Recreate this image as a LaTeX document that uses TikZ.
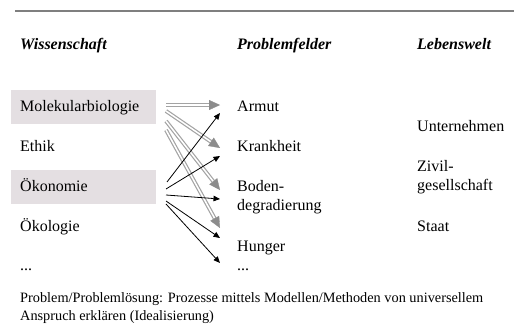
\documentclass[tikz,border=0pt]{standalone}
\usepackage{fontspec}
\setmainfont{Liberation Serif}
\usetikzlibrary{arrows.meta,calc}
\definecolor{boxfill}{HTML}{E4DFE2}
\definecolor{linegray}{HTML}{A3A3A3}
\definecolor{headgray}{HTML}{8C8C8C}
\definecolor{rulegray}{HTML}{7F7F7F}
\begin{document}
\begin{tikzpicture}[x=1pt,y=-1pt,
  txt/.style={anchor=base west,inner sep=0pt,font=\fontsize{16}{19}\selectfont},
  hdr/.style={txt,font=\fontsize{16}{19}\selectfont\bfseries\itshape},
  foot/.style={anchor=base west,inner sep=0pt,font=\fontsize{14.3}{18}\selectfont},
  shade/.style={fill=boxfill,draw=none,minimum width=145pt,minimum height=34pt,inner sep=0pt,anchor=north west},
  gline/.style={draw=linegray,line width=1.2pt,double=white,double distance=1.5pt},
  ghead/.style={draw=headgray,fill=headgray,line width=0.3pt,-{Triangle[length=11pt,width=10pt]}},
  bline/.style={draw=black,line width=0.8pt,-{Triangle[length=6.5pt,width=5.5pt]}}]
\useasboundingbox (0,0) rectangle (514,329);
% top rule
\coordinate (r1) at (15,11);
\coordinate (r2) at (514,11);
\draw[rulegray,line width=1.5pt] (r1) -- (r2);
% headers
\node[hdr] (hw) at (20,49) {Wissenschaft};
\node[hdr] (hp) at (237,49) {Problemfelder};
\node[hdr] (hl) at (417,49) {Lebenswelt};
% shaded boxes
\node[shade] (molbox) at (11,90) {};
\node[shade] (oekbox) at (11,170) {};
% Wissenschaft column
\node[txt] (mol) at (20,111) {Molekularbiologie};
\node[txt] (eth) at (20,151) {Ethik};
\node[txt] (oek) at (20,191) {Ökonomie};
\node[txt] (oeko) at (20,231) {Ökologie};
\node[txt] (wdots) at (20,270) {...};
% Problemfelder column
\node[txt] (arm) at (237,111) {Armut};
\node[txt] (kra) at (237,151) {Krankheit};
\node[txt] (bod1) at (237,191) {Boden-};
\node[txt] (bod2) at (237,210) {degradierung};
\node[txt] (hun) at (237,251) {Hunger};
\node[txt] (pdots) at (237,270) {...};
% Lebenswelt column
\node[txt] (unt) at (417,131) {Unternehmen};
\node[txt] (ziv1) at (417,171) {Zivil-};
\node[txt] (ziv2) at (417,190) {gesellschaft};
\node[txt] (sta) at (417,231) {Staat};
% footnote
\node[foot] (fn1) at (20,302) {Problem/Problemlösung: Prozesse mittels Modellen/Methoden von universellem};
\node[foot] (fn2) at (20,320) {Anspruch erklären (Idealisierung)};
% arrow end points
\coordinate (g1s) at (166,105); \coordinate (g1t) at (220,105);
\coordinate (g2s) at (166,111); \coordinate (g2t) at (220,148);
\coordinate (g3s) at (166,121); \coordinate (g3t) at (220,190);
\coordinate (g4s) at (166,130); \coordinate (g4t) at (220,228);
\coordinate (b1s) at (167,182); \coordinate (b1t) at (220,113);
\coordinate (b2s) at (166,189); \coordinate (b2t) at (220,156);
\coordinate (b3s) at (166,195); \coordinate (b3t) at (220,199);
\coordinate (b4s) at (166,201); \coordinate (b4t) at (220,238);
\coordinate (b5s) at (166,204); \coordinate (b5t) at (220,263);
% gray double arrows
\foreach \s/\t in {g1s/g1t,g2s/g2t,g3s/g3t,g4s/g4t}{
  \draw[gline] (\s) -- ($(\t)!11pt!(\s)$);
  \draw[ghead] ($(\t)!11pt!(\s)$) -- (\t);
}
% black arrows
\foreach \s/\t in {b1s/b1t,b2s/b2t,b3s/b3t,b4s/b4t,b5s/b5t}{
  \draw[bline] (\s) -- (\t);
}
\end{tikzpicture}
\end{document}
